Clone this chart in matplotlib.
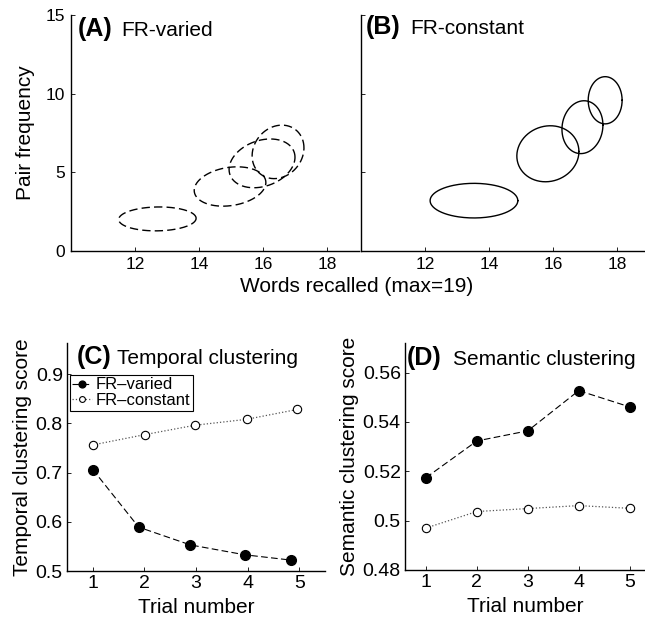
import numpy as np
import matplotlib
matplotlib.use("Agg")
import matplotlib.pyplot as plt

plt.rcParams['font.family'] = ['Liberation Sans', 'DejaVu Sans']

# ---- top panels: recall vs pair frequency ellipses (mean, sd, correlation)
varied_mx = [12.7, 14.97, 15.97, 16.47]
varied_my = [2.04, 4.1, 5.57, 6.3]
varied_sx = [1.21, 1.12, 1.03, 0.81]
varied_sy = [0.76, 1.25, 1.55, 1.7]
varied_rho = [0.05, 0.2, 0.25, 0.15]

const_mx = [13.53, 15.84, 16.92, 17.63]
const_my = [3.2, 6.18, 7.87, 9.58]
const_sx = [1.37, 0.97, 0.64, 0.53]
const_sy = [1.1, 1.78, 1.68, 1.5]
const_rho = [0.0, 0.08, 0.08, 0.0]

# ---- bottom panels
trials = [1, 2, 3, 4, 5]
temporal_varied_x = [1.0, 1.89, 2.89, 3.94, 4.85]
temporal_varied = [0.706, 0.589, 0.553, 0.533, 0.522]
temporal_const_x = [1.0, 2.01, 2.98, 3.98, 4.96]
temporal_const = [0.756, 0.777, 0.796, 0.808, 0.828]

semantic_varied = [0.5174, 0.5323, 0.5364, 0.5527, 0.5461]
semantic_const = [0.497, 0.5037, 0.5049, 0.5061, 0.505]

W, H = 645, 619
fig = plt.figure(figsize=(W / 100, H / 100), dpi=100)


def px_axes(left, top, right, bottom):
    return fig.add_axes([left / W, 1 - bottom / H, (right - left) / W, (bottom - top) / H])


def style(ax):
    for s in ['top', 'right']:
        ax.spines[s].set_visible(False)
    for s in ['left', 'bottom']:
        ax.spines[s].set_linewidth(1.0)
    ax.tick_params(direction='in', length=3, width=0.6, labelsize=12.5, pad=4)


def panel_title(ax, x, y, tag, txt, tagsize, txtsize, gap):
    t1 = ax.text(x, y, tag, transform=ax.transAxes, fontsize=tagsize,
                 fontweight='bold', va='baseline', ha='left')
    ax.annotate(txt, xy=(1, y), xycoords=(t1, 'axes fraction'),
                xytext=(gap, 0), textcoords='offset points',
                fontsize=txtsize, va='baseline', ha='left')


def draw_ellipses(ax, mx, my, sx, sy, rho, ls):
    t = np.linspace(0, 2 * np.pi, 200)
    for i in range(len(mx)):
        x = mx[i] + sx[i] * np.cos(t)
        y = my[i] + sy[i] * (rho[i] * np.cos(t) + np.sqrt(1 - rho[i] ** 2) * np.sin(t))
        ax.plot(x, y, color='black', lw=1.0, ls=ls, dashes=(6, 3) if ls == '--' else ())


# (A)
axA = px_axes(71, 15, 359, 251)
style(axA)
draw_ellipses(axA, varied_mx, varied_my, varied_sx, varied_sy, varied_rho, '--')
axA.set_xlim(10, 19)
axA.set_ylim(0, 15)
axA.set_xticks([12, 14, 16, 18])
axA.set_yticks([0, 5, 10, 15])
axA.set_ylabel('Pair frequency', fontsize=15, labelpad=8)
panel_title(axA, 0.024, 0.911, '(A)', 'FR-varied', 18, 15, 6)

# (B)
axB = px_axes(361, 15, 645, 251)
style(axB)
draw_ellipses(axB, const_mx, const_my, const_sx, const_sy, const_rho, '-')
axB.set_xlim(10, 10 + 284 / 32)
axB.set_ylim(0, 15)
axB.set_xticks([12, 14, 16, 18])
axB.set_yticks([0, 5, 10, 15])
axB.set_yticklabels([])
panel_title(axB, 0.018, 0.92, '(B)', 'FR-constant', 18, 15, 7)

fig.text(357 / W, 1 - 286 / H, 'Words recalled (max=19)', fontsize=15,
         ha='center', va='center')

# (C)
axC = px_axes(67, 343, 325, 571)
style(axC)
axC.plot(temporal_varied_x, temporal_varied, ls='--', dashes=(6, 3), color='black', lw=0.8,
         marker='o', ms=7, mfc='black', mec='black', label='FR–varied')
axC.plot(temporal_const_x, temporal_const, ls=':', color='#555555', lw=0.9,
         marker='o', ms=6, mfc='white', mec='black', mew=0.8, label='FR–constant')
axC.set_xlim(0.5, 5.5)
axC.set_ylim(0.5, 0.963)
axC.set_xticks(trials)
axC.set_yticks([0.5, 0.6, 0.7, 0.8, 0.9])
axC.set_yticklabels(['0.5', '0.6', '0.7', '0.8', '0.9'])
axC.tick_params(labelsize=14, pad=3)
axC.set_xlabel('Trial number', fontsize=15, labelpad=4)
axC.set_ylabel('Temporal clustering score', fontsize=15, labelpad=3)
panel_title(axC, 0.039, 0.908, '(C)', 'Temporal clustering', 18, 15, 4)
leg = axC.legend(loc='upper left', bbox_to_anchor=(0.01, 0.86), fontsize=12,
                 frameon=True, fancybox=False, edgecolor='black', framealpha=1,
                 handlelength=1.2, handletextpad=0.2, borderpad=0.15,
                 labelspacing=0.05, borderaxespad=0, markerscale=0.7)
leg.get_frame().set_linewidth(0.8)

# (D)
axD = px_axes(405, 343, 645, 570)
style(axD)
axD.plot(trials, semantic_varied, ls='--', dashes=(6, 3), color='black', lw=0.8,
         marker='o', ms=7, mfc='black', mec='black')
axD.plot(trials, semantic_const, ls=':', color='#555555', lw=0.9,
         marker='o', ms=6, mfc='white', mec='black', mew=0.8)
axD.set_xlim(0.59, 5.3)
axD.set_ylim(0.48, 0.572)
axD.set_xticks(trials)
axD.set_yticks([0.48, 0.5, 0.52, 0.54, 0.56])
axD.set_yticklabels(['0.48', '0.5', '0.52', '0.54', '0.56'])
axD.tick_params(labelsize=14, pad=3)
axD.set_xlabel('Trial number', fontsize=15, labelpad=4)
axD.set_ylabel('Semantic clustering score', fontsize=15, labelpad=3)
panel_title(axD, 0.008, 0.903, '(D)', 'Semantic clustering', 18, 15, 8)

fig.savefig('out.png', dpi=100)
